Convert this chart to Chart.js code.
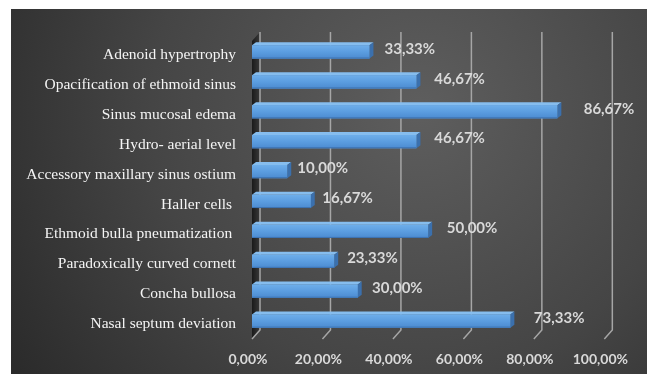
<!DOCTYPE html>
<html>
<head>
<meta charset="utf-8">
<script src="https://cdn.jsdelivr.net/npm/chart.js@4.4.0/dist/chart.umd.min.js"></script>
<style>
  html, body { margin: 0; padding: 0; background: #fff; }
  #wrap { width: 647px; height: 374px; }
</style>
</head>
<body>
<div id="wrap"><canvas id="findingsChart" width="647" height="374"></canvas></div>
<script>
const categories = [
    'Adenoid hypertrophy',
    'Opacification of ethmoid sinus',
    'Sinus mucosal edema',
    'Hydro- aerial level',
    'Accessory maxillary sinus ostium',
    'Haller cells ',
    'Ethmoid bulla pneumatization ',
    'Paradoxically curved cornett',
    'Concha bullosa',
    'Nasal septum deviation'
];
const percentages = [33.33, 46.67, 86.67, 46.67, 10.00, 16.67, 50.00, 23.33, 30.00, 73.33];
const tickValues = [0, 20, 40, 60, 80, 100];

const fmt = v => v.toFixed(2).replace('.', ',') + '%';

// depth of the back wall and of each bar
const WALL_DX = 8, WALL_DY = 9;
const BAR_DX = 4, BAR_DY = 3;

const backdrop = {
    id: 'backdrop',
    beforeDraw(chart) {
        const ctx = chart.ctx;
        ctx.save();
        ctx.fillStyle = '#ffffff';
        ctx.fillRect(0, 0, chart.width, chart.height);
        const g = ctx.createRadialGradient(420, 110, 10, 420, 110, 480);
        g.addColorStop(0, '#5d5d5d');
        g.addColorStop(0.55, '#454545');
        g.addColorStop(1, '#2b2b2b');
        ctx.fillStyle = g;
        ctx.fillRect(11, 9, chart.width - 11, chart.height - 9);
        ctx.restore();
    }
};

const wallGrid = {
    id: 'wallGrid',
    beforeDatasetsDraw(chart) {
        const ctx = chart.ctx;
        const x = chart.scales.x;
        const area = chart.chartArea;
        const backTop = area.top - 5;
        const backBottom = area.bottom - 6;
        const frontBottom = backBottom + WALL_DY;
        ctx.save();
        // dark side wall at the value axis origin
        const x0 = x.getPixelForValue(0);
        const wg = ctx.createLinearGradient(x0, 0, x0 + WALL_DX, 0);
        wg.addColorStop(0, '#1a1a1a');
        wg.addColorStop(1, '#3a3a3a');
        ctx.fillStyle = wg;
        ctx.beginPath();
        ctx.moveTo(x0, backTop + WALL_DY);
        ctx.lineTo(x0 + WALL_DX, backTop);
        ctx.lineTo(x0 + WALL_DX, backBottom);
        ctx.lineTo(x0, frontBottom);
        ctx.closePath();
        ctx.fill();
        // grid lines on the back plane plus the floor diagonals
        ctx.strokeStyle = '#a6a6a6';
        ctx.lineWidth = 1.5;
        tickValues.forEach(v => {
            const px = x.getPixelForValue(v);
            ctx.beginPath();
            ctx.moveTo(px + WALL_DX, backTop);
            ctx.lineTo(px + WALL_DX, backBottom);
            ctx.lineTo(px, frontBottom);
            ctx.stroke();
        });
        ctx.restore();
    }
};

const bars3d = {
    id: 'bars3d',
    afterDatasetsDraw(chart) {
        const ctx = chart.ctx;
        const meta = chart.getDatasetMeta(0);
        const left = chart.scales.x.getPixelForValue(0);
        ctx.save();
        meta.data.forEach((bar, i) => {
            const h = bar.height;
            const top = bar.y - h / 2, bottom = bar.y + h / 2;
            const base = bar.base, end = bar.x;
            // top face
            ctx.fillStyle = '#86bdee';
            ctx.beginPath();
            ctx.moveTo(base, top);
            ctx.lineTo(base + BAR_DX, top - BAR_DY);
            ctx.lineTo(end + BAR_DX, top - BAR_DY);
            ctx.lineTo(end, top);
            ctx.closePath();
            ctx.fill();
            // side face
            ctx.fillStyle = '#3b70ad';
            ctx.beginPath();
            ctx.moveTo(end, top);
            ctx.lineTo(end + BAR_DX, top - BAR_DY);
            ctx.lineTo(end + BAR_DX, bottom - BAR_DY);
            ctx.lineTo(end, bottom);
            ctx.closePath();
            ctx.fill();
            // front face
            const fg = ctx.createLinearGradient(0, top, 0, bottom);
            fg.addColorStop(0, '#6eaeea');
            fg.addColorStop(0.5, '#5b9de0');
            fg.addColorStop(1, '#4c8bd0');
            ctx.fillStyle = fg;
            ctx.fillRect(base, top, end - base, h);
            ctx.fillStyle = '#3d73b2';
            ctx.fillRect(base, bottom - 1, end - base, 1);

            // value label
            ctx.fillStyle = '#d9d9d9';
            ctx.font = 'bold 15px Lato, "Liberation Sans", sans-serif';
            ctx.textAlign = 'left';
            ctx.textBaseline = 'middle';
            const lx = left + (end - left) * 1.06 + 8;
            ctx.fillText(fmt(percentages[i]), lx, bar.y - 3);
        });
        ctx.restore();
    }
};

new Chart(document.getElementById('findingsChart'), {
    type: 'bar',
    data: {
        labels: categories,
        datasets: [{
            data: percentages,
            backgroundColor: '#5b9de0',
            borderWidth: 0,
            barPercentage: 0.44,
            categoryPercentage: 1
        }]
    },
    options: {
        indexAxis: 'y',
        responsive: false,
        animation: false,
        layout: { padding: { left: 11, top: 37, right: 41, bottom: 0 } },
        plugins: {
            legend: { display: false },
            tooltip: { enabled: false }
        },
        scales: {
            x: {
                min: 0,
                max: 100,
                afterBuildTicks: s => { s.ticks = tickValues.map(v => ({ value: v })); },
                afterFit: s => { s.height = 38; },
                border: { display: false },
                grid: { display: false, drawTicks: false },
                ticks: {
                    padding: 15,
                    labelOffset: -4,
                    color: '#d9d9d9',
                    font: { family: 'Lato, "Liberation Sans", sans-serif', size: 14, weight: 'bold' },
                    callback: v => fmt(v)
                }
            },
            y: {
                afterFit: s => { s.width = 241; },
                border: { display: false },
                grid: { display: false, drawTicks: false },
                ticks: {
                    padding: 16,
                    labelOffset: 3,
                    color: '#f4f4f4',
                    font: { family: '"Liberation Serif", "DejaVu Serif", serif', size: 15.5 }
                }
            }
        }
    },
    plugins: [backdrop, wallGrid, bars3d]
});
</script>
</body>
</html>
